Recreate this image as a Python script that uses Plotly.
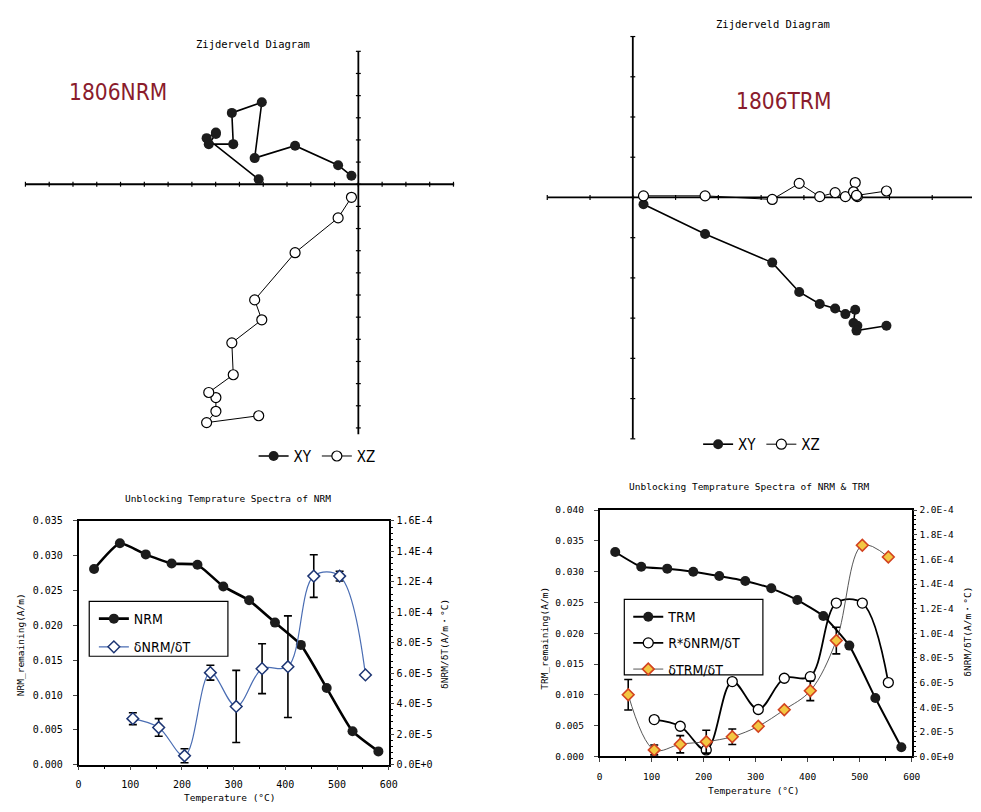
import plotly.graph_objects as go

# ---------------- data ----------------
# Zijderveld components of sample 1806, expressed in axis-tick units
nrm_x = [-4.19, -6.38, -5.99, -5.99, -6.29, -5.26, -5.32, -4.06, -4.36, -2.66, -0.85, -0.29]
nrm_y = [0.22, 2.08, 2.33, 2.27, 1.81, 1.81, 3.22, 3.70, 1.18, 1.74, 0.86, 0.38]
nrm_z = [-10.45, -10.76, -10.25, -9.63, -9.40, -8.60, -7.16, -6.12, -5.22, -3.09, -1.52, -0.59]

trm_x = [0.25, 1.69, 3.26, 3.89, 4.37, 4.73, 4.97, 5.20, 5.16, 5.25, 5.23, 5.93]
trm_y = [-0.17, -0.91, -1.62, -2.35, -2.65, -2.76, -2.90, -2.79, -3.12, -3.19, -3.31, -3.19]
trm_z = [0.04, 0.04, -0.05, 0.35, 0.02, 0.12, 0.02, 0.37, 0.14, 0.02, 0.05, 0.16]

# thermal demagnetisation steps (deg C)
temp_steps = [30, 80, 130, 180, 230, 280, 330, 380, 430, 480, 530, 580]
nrm_remaining = [0.0281, 0.0318, 0.0302, 0.0289, 0.0287, 0.0256, 0.0236, 0.0204,
                 0.0172, 0.0110, 0.0048, 0.0019]
trm_remaining = [0.0332, 0.0308, 0.0305, 0.0300, 0.0293, 0.0285, 0.0273, 0.0254,
                 0.0228, 0.0180, 0.0095, 0.0015]

# unblocking spectra (mid-step temperatures)
temp_mid = [105, 155, 205, 255, 305, 355, 405, 455, 505, 555]
dnrm_dt = [3.02e-5, 2.44e-5, 5.8e-6, 6.04e-5, 3.82e-5, 6.30e-5, 6.43e-5, 1.238e-4, 1.238e-4, 5.89e-5]
dnrm_dt_err = [3.9e-6, 5.8e-6, 4.6e-6, 4.9e-6, 2.37e-5, 1.64e-5, 3.34e-5, 1.40e-5, 3.2e-6, None]

r_dnrm_dt = [2.99e-5, 2.45e-5, 5.3e-6, 6.08e-5, 3.81e-5, 6.35e-5, 6.48e-5, 1.245e-4, 1.245e-4, 6.0e-5]

temp_mid_trm = [55, 105, 155, 205, 255, 305, 355, 405, 455, 505, 555]
dtrm_dt = [5.01e-5, 5.3e-6, 9.9e-6, 1.2e-5, 1.6e-5, 2.45e-5, 3.79e-5, 5.33e-5, 9.41e-5, 1.715e-4, 1.619e-4]
dtrm_dt_err = [1.24e-5, 4.0e-6, 7.0e-6, 9.3e-6, 6.3e-6, None, None, 8.0e-6, 1.08e-5, None, None]

# tick labels
nrm_left_ticks = [0, 0.005, 0.010, 0.015, 0.020, 0.025, 0.030, 0.035]
trm_left_ticks = [0, 0.005, 0.010, 0.015, 0.020, 0.025, 0.030, 0.035, 0.040]
rate_ticks_nrm = [0, 2e-5, 4e-5, 6e-5, 8e-5, 1e-4, 1.2e-4, 1.4e-4, 1.6e-4]
rate_labels_nrm = ["0.0E+0", "2.0E-5", "4.0E-5", "6.0E-5", "8.0E-5",
                   "1.0E-4", "1.2E-4", "1.4E-4", "1.6E-4"]
rate_ticks_trm = [0, 2e-5, 4e-5, 6e-5, 8e-5, 1e-4, 1.2e-4, 1.4e-4, 1.6e-4, 1.8e-4, 2e-4]
rate_labels_trm = ["0.0E+0", "2.0E-5", "4.0E-5", "6.0E-5", "8.0E-5", "1.0E-4",
                   "1.2E-4", "1.4E-4", "1.6E-4", "1.8E-4", "2.0E-4"]

# ---------------- layout helpers ----------------
W, H = 981, 812


def fx(p):
    return p / W


def fy(p):
    return 1 - p / H


MONO = "DejaVu Sans Mono"
NARROW = "DejaVu Sans Condensed, Liberation Sans Narrow, Liberation Sans, sans-serif"
DARKRED = "#8a1c2c"

fig = go.Figure()

# ---------------- Zijderveld axes drawn through origin ----------------
zij = [
    dict(xa="x", ya="y", xlim=(-14, 4.04), ylim=(-11.3, 6.0), legend="legend"),
    dict(xa="x2", ya="y2", xlim=(-2, 7.93), ylim=(-6.0, 4.0), legend="legend2"),
]
for z in zij:
    x0, x1 = z["xlim"]
    y0, y1 = z["ylim"]
    fig.add_trace(go.Scatter(x=[x0, x1], y=[0, 0], mode="lines", xaxis=z["xa"], yaxis=z["ya"],
                             line=dict(color="black", width=1.8), showlegend=False,
                             hoverinfo="skip", cliponaxis=False))
    fig.add_trace(go.Scatter(x=[0, 0], y=[y0, y1], mode="lines", xaxis=z["xa"], yaxis=z["ya"],
                             line=dict(color="black", width=1.8), showlegend=False,
                             hoverinfo="skip", cliponaxis=False))
    xt = list(range(int(x0), int(x1) + 1))
    yt = list(range(int(y0), int(y1) + 1))
    fig.add_trace(go.Scatter(x=xt, y=[0] * len(xt), mode="markers", xaxis=z["xa"], yaxis=z["ya"],
                             marker=dict(symbol="line-ns", size=3.5, line=dict(width=1.2, color="black")),
                             showlegend=False, hoverinfo="skip", cliponaxis=False))
    fig.add_trace(go.Scatter(x=[0] * len(yt), y=yt, mode="markers", xaxis=z["xa"], yaxis=z["ya"],
                             marker=dict(symbol="line-ew", size=3.5, line=dict(width=1.2, color="black")),
                             showlegend=False, hoverinfo="skip", cliponaxis=False))

# projections
for (xs, ys, zs, z) in [(nrm_x, nrm_y, nrm_z, zij[0]), (trm_x, trm_y, trm_z, zij[1])]:
    fig.add_trace(go.Scatter(x=xs, y=ys, mode="lines+markers", name="XY",
                             xaxis=z["xa"], yaxis=z["ya"], legend=z["legend"],
                             line=dict(color="black", width=1.6),
                             marker=dict(symbol="circle", size=10, color="#1c1c1c"),
                             cliponaxis=False))
    fig.add_trace(go.Scatter(x=xs, y=zs, mode="lines+markers", name="XZ",
                             xaxis=z["xa"], yaxis=z["ya"], legend=z["legend"],
                             line=dict(color="black", width=1),
                             marker=dict(symbol="circle", size=10, color="white",
                                         line=dict(color="black", width=1.2)),
                             cliponaxis=False))

# ---------------- NRM unblocking spectra ----------------
fig.add_trace(go.Scatter(x=temp_steps, y=nrm_remaining, name="NRM", mode="lines+markers",
                         xaxis="x3", yaxis="y3", legend="legend3", legendgroup="a",
                         line=dict(color="black", width=2.6, shape="spline", smoothing=0.5),
                         marker=dict(symbol="circle", size=10, color="#1c1c1c"),
                         cliponaxis=False))
fig.add_trace(go.Scatter(x=temp_mid, y=dnrm_dt, name="δNRM/δT", mode="lines+markers",
                         xaxis="x3", yaxis="y4", legend="legend3", legendgroup="b",
                         line=dict(color="#4a6db3", width=1.2, shape="spline", smoothing=1),
                         marker=dict(symbol="diamond", size=9, color="white",
                                     line=dict(color="#1d3573", width=1.5)),
                         error_y=dict(type="data", array=dnrm_dt_err, color="black",
                                      thickness=1.6, width=4),
                         cliponaxis=False))

# ---------------- NRM & TRM unblocking spectra ----------------
fig.add_trace(go.Scatter(x=temp_steps, y=trm_remaining, name="TRM", mode="lines+markers",
                         xaxis="x4", yaxis="y5", legend="legend4", legendgroup="a",
                         line=dict(color="black", width=2, shape="spline", smoothing=0.5),
                         marker=dict(symbol="circle", size=10, color="#1c1c1c"),
                         cliponaxis=False))
fig.add_trace(go.Scatter(x=temp_mid, y=r_dnrm_dt, name="R*δNRM/δT", mode="lines+markers",
                         xaxis="x4", yaxis="y6", legend="legend4", legendgroup="b",
                         line=dict(color="black", width=1.8, shape="spline", smoothing=1),
                         marker=dict(symbol="circle", size=10, color="white",
                                     line=dict(color="black", width=1.3)),
                         cliponaxis=False))
fig.add_trace(go.Scatter(x=temp_mid_trm, y=dtrm_dt, name="δTRM/δT", mode="lines+markers",
                         xaxis="x4", yaxis="y6", legend="legend4", legendgroup="c",
                         line=dict(color="#444444", width=0.9, shape="spline", smoothing=1),
                         marker=dict(symbol="diamond", size=9, color="#f3c742",
                                     line=dict(color="#d2421f", width=1.6)),
                         error_y=dict(type="data", array=dtrm_dt_err, color="black",
                                      thickness=1.6, width=4),
                         cliponaxis=False))

# ---------------- axes ----------------
hidden = dict(visible=False, showgrid=False, zeroline=False)
tickfont = dict(family=MONO, size=10, color="black")
tickfont4 = dict(family=MONO, size=9.5, color="black")

x_spec = dict(range=[0, 600], dtick=100, ticks="outside", ticklen=4, tickwidth=1.2,
              ticklabelstandoff=6,
              showline=True, linecolor="black", linewidth=1.5, mirror=True,
              showgrid=False, zeroline=False,
              minor=dict(dtick=50, ticks="outside", ticklen=2.5, tickcolor="black"))
y_left = dict(ticks="outside", ticklen=4, tickwidth=1.2, showline=True, linecolor="black",
              ticklabelstandoff=8,
              linewidth=1.5, showgrid=False, zeroline=False, tickformat=".3f")
y_right = dict(side="right", tickmode="array", ticks="outside", ticklen=4, tickwidth=1.2,
               showline=True, linecolor="black", linewidth=1.5, showgrid=False, zeroline=False,
               minor=dict(dtick=4e-6, ticks="outside", ticklen=2.5, tickcolor="black"))

fig.update_layout(
    width=W, height=H, autosize=False,
    margin=dict(l=0, r=0, t=0, b=0),
    paper_bgcolor="white", plot_bgcolor="rgba(0,0,0,0)",
    showlegend=True,
    xaxis=dict(domain=[fx(22.7), fx(457)], range=list(zij[0]["xlim"]), anchor="y", **hidden),
    yaxis=dict(domain=[fy(435), fy(46)], range=list(zij[0]["ylim"]), anchor="x", **hidden),
    xaxis2=dict(domain=[fx(551), 1.0], range=list(zij[1]["xlim"]), anchor="y2", **hidden),
    yaxis2=dict(domain=[fy(439.3), fy(31)], range=list(zij[1]["ylim"]), anchor="x2", **hidden),
    xaxis3=dict(domain=[fx(76.5), fx(390.5)], anchor="y3", tickfont=tickfont, **x_spec),
    yaxis3=dict(domain=[fy(770), fy(522.7)], range=[0, 0.035], tickvals=nrm_left_ticks,
                anchor="x3", tickfont=tickfont, **y_left),
    yaxis4=dict(overlaying="y3", anchor="x3", range=[0, 1.6e-4], tickvals=rate_ticks_nrm,
                ticktext=rate_labels_nrm, tickfont=tickfont, **y_right),
    xaxis4=dict(domain=[fx(604), fx(920)], anchor="y5", tickfont=tickfont4, **x_spec),
    yaxis5=dict(domain=[fy(761.7), fy(511.7)], range=[0, 0.040], tickvals=trm_left_ticks,
                anchor="x4", tickfont=tickfont4, **y_left),
    yaxis6=dict(overlaying="y5", anchor="x4", range=[0, 2.0e-4], tickvals=rate_ticks_trm,
                ticktext=rate_labels_trm, tickfont=tickfont4, **y_right),
    legend=dict(orientation="h", x=fx(318), y=fy(457), xanchor="center", yanchor="middle",
                bgcolor="rgba(0,0,0,0)", font=dict(family=NARROW, size=15, color="black"),
                itemwidth=30),
    legend2=dict(orientation="h", x=fx(768), y=fy(445), xanchor="center", yanchor="middle",
                 bgcolor="rgba(0,0,0,0)", font=dict(family=NARROW, size=15, color="black"),
                 itemwidth=30),
    legend3=dict(x=fx(92), y=fy(606), xanchor="left", yanchor="top", tracegroupgap=7,
                 bgcolor="rgba(0,0,0,0)", font=dict(family=NARROW, size=14, color="black"),
                 itemwidth=30),
    legend4=dict(x=fx(633), y=fy(604), xanchor="left", yanchor="top", tracegroupgap=5,
                 bgcolor="rgba(0,0,0,0)", font=dict(family=NARROW, size=14, color="black"),
                 itemwidth=30),
)

# legend frames
for (l, t, r, b) in [(87.3, 604.3, 227.7, 660), (629, 602.3, 769.3, 679)]:
    fig.add_shape(type="rect", xref="paper", yref="paper", x0=fx(l), x1=fx(r),
                  y0=fy(b), y1=fy(t), line=dict(color="black", width=1.2),
                  fillcolor="white", layer="below")

# ---------------- text ----------------
def note(text, x, y, size, family=MONO, color="black", angle=0, xanchor="center"):
    fig.add_annotation(text=text, x=fx(x), y=fy(y), xref="paper", yref="paper",
                       showarrow=False, textangle=angle, xanchor=xanchor, yanchor="middle",
                       font=dict(family=family, size=size, color=color))


note("Zijderveld Diagram", 253, 39, 10.5)
note("Zijderveld Diagram", 780, 18, 10.5)
note("1806NRM", 116, 87, 22.5, family=NARROW, color=DARKRED)
note("1806TRM", 790, 96, 22.5, family=NARROW, color=DARKRED)

note("Unblocking Temprature Spectra of NRM", 228, 500, 9.5)
note("Unblocking Temprature Spectra of NRM & TRM", 755, 488, 9.5)

note("NRM_remaining(A/m)", 18, 648, 9.5, angle=-90)
note("δNRM/δT(A/m・°C)", 447, 648, 9.5, angle=-90)
note("Temperature (°C)", 230, 803, 9.5)

note("TRM_remaining(A/m)", 548, 642, 9.5, angle=-90)
note("δNRM/δT(A/m・°C)", 977, 635, 9.5, angle=-90)
note("Temperature (°C)", 760, 796, 9.5)

fig.write_html("out.html")
